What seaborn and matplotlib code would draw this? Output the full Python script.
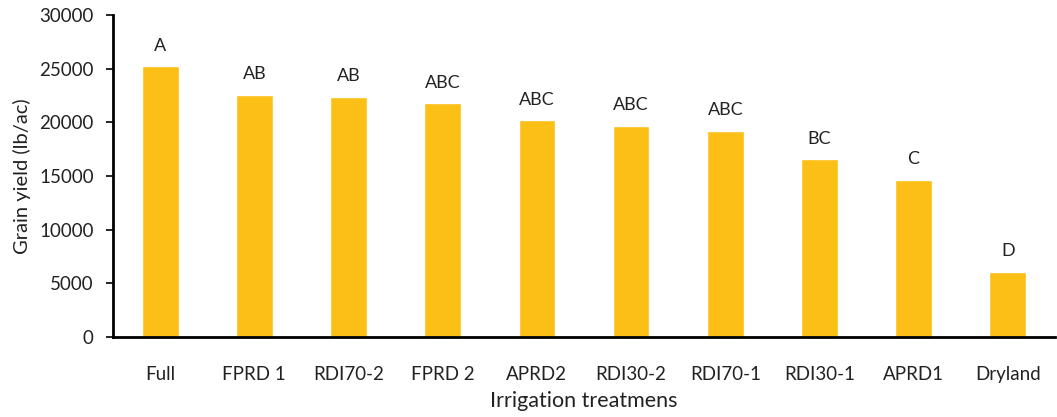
import matplotlib
matplotlib.use("Agg")
import matplotlib.pyplot as plt
import seaborn as sns
import pandas as pd

categories = ["Full", "FPRD 1", "RDI70-2", "FPRD 2", "APRD2", "RDI30-2",
              "RDI70-1", "RDI30-1", "APRD1", "Dryland"]
yields = [25230, 22580, 22370, 21780, 20190, 19660, 19200, 16560, 14630, 6060]
letters = ["A", "AB", "AB", "ABC", "ABC", "ABC", "ABC", "BC", "C", "D"]
yticks = [0, 5000, 10000, 15000, 20000, 25000, 30000]

sns.set_theme(style="white")
plt.rcParams['font.family'] = ['Lato', 'DejaVu Sans']

df = pd.DataFrame({"cat": categories, "y": yields})
fig = plt.figure(figsize=(10.57, 4.17), dpi=100)
ax = fig.add_axes([0.107, 0.192, 0.891, 0.772])
sns.barplot(data=df, x="cat", y="y", color="#FCBF15", saturation=1,
            width=0.39, ax=ax)
for i, (v, t) in enumerate(zip(yields, letters)):
    ax.annotate(t, (i, v), xytext=(0, 9), textcoords="offset points",
                ha="center", va="bottom", fontsize=13, color="#222222")
ax.set_ylim(0, 30000)
ax.set_xlim(-0.5, len(categories) - 0.5)
ax.set_yticks(yticks)
ax.set_yticklabels([str(v) for v in yticks], fontsize=13.5, color="#222222")
ax.tick_params(axis="y", which="major", left=True, length=5, width=1.2,
               direction="out", color="black", pad=9)
ax.tick_params(axis="x", bottom=False, pad=15, labelsize=13.5, labelcolor="#222222")
for s in ["top", "right"]:
    ax.spines[s].set_visible(False)
for s in ["left", "bottom"]:
    ax.spines[s].set_color("black")
    ax.spines[s].set_linewidth(2)
ax.set_xlabel("Irrigation treatmens", fontsize=15.5, color="#222222", labelpad=6)
ax.set_ylabel("Grain yield (lb/ac)", fontsize=14.5, color="#222222", labelpad=6)
fig.savefig("out.png", dpi=100)
